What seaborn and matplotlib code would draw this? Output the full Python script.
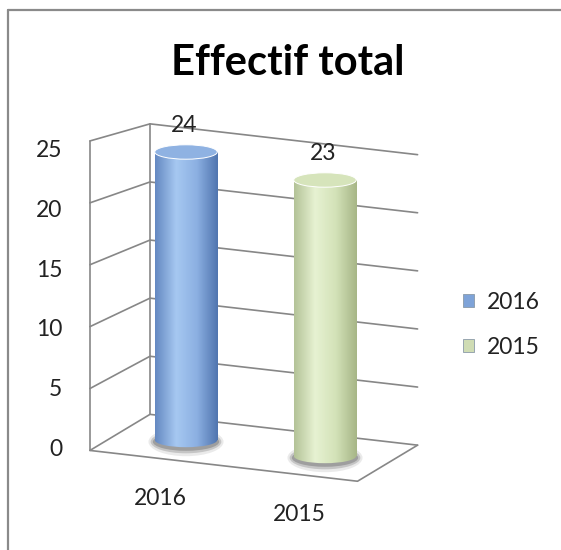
import numpy as np
import pandas as pd
import matplotlib
matplotlib.use('Agg')
import matplotlib.pyplot as plt
import seaborn as sns
from matplotlib.patches import Ellipse
from matplotlib.lines import Line2D
from matplotlib.colors import LinearSegmentedColormap

# données du graphique
years = ['2016', '2015']
effectif = [24, 23]
ticks = [0, 5, 10, 15, 20, 25]
title = 'Effectif total'

bar_colors = ['#7ea3d8', '#cfdcb4']
body_grad = [['#6589c2', '#a6c8f1', '#8cb0e2', '#5176b0'],
             ['#b4c398', '#e7f2d2', '#d3e2b8', '#a7b687']]
top_colors = ['#8fb2e2', '#d6e4bb']
GRID = '#878787'
TXT = '#222222'

# pseudo 3D : décalage en profondeur et inclinaison du sol
K = -16 / 12      # pente (valeur par catégorie)
DX = 0.216        # demi-profondeur en x
CL, CR = -0.475, 1.45
EH = 1.2          # hauteur des ellipses (en unités de valeur)


def proj(c, v, d):
    dv = (21.5 - 0.38 * v) / 12
    x = c + d * DX
    return x, v + d * dv + K * x


sns.set_theme(style='white')
plt.rcParams['font.family'] = ['Lato', 'DejaVu Sans']

fig = plt.figure(figsize=(5.61, 5.5), dpi=100)
ax = fig.add_axes([0, 0, 1, 1])

df = pd.DataFrame({'annee': years, 'effectif': effectif})
sns.barplot(data=df, x='annee', y='effectif', hue='annee', palette=bar_colors,
            width=0.45, saturation=1, ax=ax, legend=True, zorder=3)

sns.move_legend(ax, 'center left', bbox_to_anchor=(463 / 561, 1 - 325 / 550),
                bbox_transform=fig.transFigure, title=None, frameon=False,
                fontsize=16.5, handlelength=0.5, handleheight=0.5,
                handletextpad=0.55, labelspacing=1.05, borderpad=0, borderaxespad=0)
for t in ax.get_legend().get_texts():
    t.set_color(TXT)
for h in ax.get_legend().legend_handles:
    h.set_edgecolor('#8a9aa8')
    h.set_linewidth(0.6)

# murs et quadrillage
for t in ticks:
    pts = [proj(CL, t, -1), proj(CL, t, 1), proj(CR, t, 1)]
    ax.plot([p[0] for p in pts], [p[1] for p in pts], color=GRID, lw=1.2, zorder=1)
for d in (-1, 1):
    pts = [proj(CL, ticks[0], d), proj(CL, ticks[-1], d)]
    ax.plot([p[0] for p in pts], [p[1] for p in pts], color=GRID, lw=1.2, zorder=1)
pts = [proj(CL, 0, -1), proj(CR, 0, -1), proj(CR, 0, 1)]
ax.plot([p[0] for p in pts], [p[1] for p in pts], color=GRID, lw=1.2, zorder=1)

# cylindres
for i, bc in enumerate(ax.containers):
    for bar, val in zip(bc, bc.datavalues):
        x0, w, h = bar.get_x(), bar.get_width(), bar.get_height()
        xc = x0 + w / 2
        base = K * xc
        bar.set_y(base)
        bar.set_facecolor('none')
        bar.set_edgecolor('none')
        cmap = LinearSegmentedColormap.from_list('c%d' % i, body_grad[i])
        grad = np.linspace(0, 1, 64)[None, :]

        # ombre au pied
        for k, (s, a, col) in enumerate([(2.0, 0.35, '#c4c4c4'), (1.6, 0.55, '#a8a8a8'),
                                         (1.25, 0.7, '#8e8e8e')]):
            ax.add_patch(Ellipse((xc, base - 0.15), w * (1.2 - 0.07 * k), EH * s,
                                 fc=col, ec='none', alpha=a, zorder=2))
        im = ax.imshow(grad, cmap=cmap, extent=[x0, x0 + w, base, base + h],
                       aspect='auto', interpolation='bicubic', zorder=3)
        im.set_clip_path(bar)
        bottom = Ellipse((xc, base), w, EH, fc='none', ec='none')
        ax.add_patch(bottom)
        im2 = ax.imshow(grad, cmap=cmap, extent=[x0, x0 + w, base - EH, base + EH],
                        aspect='auto', interpolation='bicubic', zorder=3)
        im2.set_clip_path(bottom)
        ax.add_patch(Ellipse((xc, base + h), w, EH, fc=top_colors[i], ec='white',
                             lw=0.7, zorder=4))
        ax.annotate(f'{val:g}', (xc, base + h), xytext=(-1, 19), textcoords='offset points',
                    ha='center', va='center', fontsize=16.5, color=TXT, zorder=6)

# étiquettes des axes
for t in ticks:
    ax.annotate(str(t), proj(CL, t, -1), xytext=(-20, 1 - 8 * t / 25),
                textcoords='offset points', ha='right', va='center',
                fontsize=16.5, color=TXT)
for i, lab in enumerate(years):
    ax.annotate(lab, proj(i, 0, -1), xytext=(3, -29), textcoords='offset points',
                ha='center', va='center', fontsize=16.5, color=TXT)

ax.set_xlim(-186 / 139, (561 - 186) / 139)
ax.set_ylim(-110 / 12, 440 / 12)
ax.set_axis_off()

fig.text(288 / 561, 1 - 75 / 550, title, ha='center', va='baseline',
         fontsize=30, fontweight='bold', color='black')

# cadre
fig.add_artist(Line2D([8 / 561, 8 / 561], [0, 1 - 9.5 / 550], transform=fig.transFigure,
                      color='#8a8a8a', lw=1.6))
fig.add_artist(Line2D([8 / 561, 1], [1 - 9.5 / 550, 1 - 9.5 / 550], transform=fig.transFigure,
                      color='#8a8a8a', lw=1.6))

fig.savefig('out.png', dpi=100, facecolor='white')
